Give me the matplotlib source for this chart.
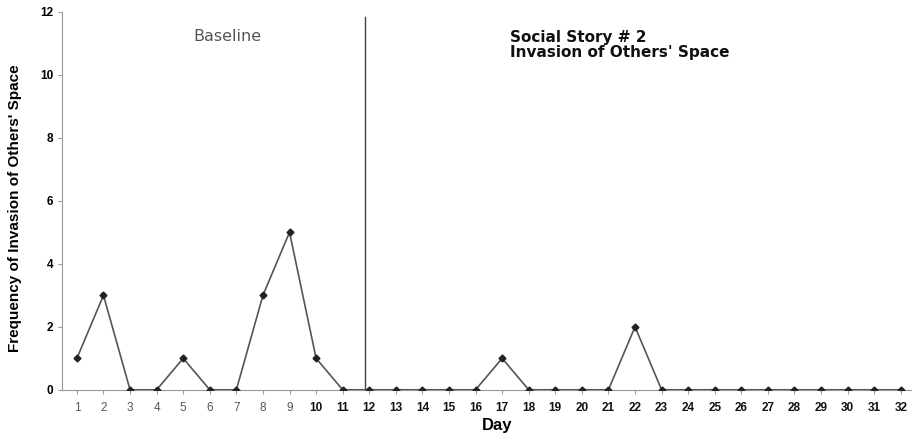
import matplotlib
matplotlib.use("Agg")
import matplotlib.pyplot as plt

plt.rcParams['font.family'] = ['Liberation Sans', 'DejaVu Sans']

days = list(range(1, 33))
frequency = [1, 3, 0, 0, 1, 0, 0, 3, 5, 1, 0,
             0, 0, 0, 0, 0, 1, 0, 0, 0, 0, 2, 0, 0, 0, 0, 0, 0, 0, 0, 0, 0]
y_ticks = [0, 2, 4, 6, 8, 10, 12]
phase_change = 11.85

fig = plt.figure(figsize=(9.16, 4.37), dpi=100)
ax = fig.add_axes([0.068, 0.108, 0.927, 0.865])

ax.plot(days, frequency, color='#555555', lw=1.2, marker='D', markersize=3.5,
        markerfacecolor='#222222', markeredgecolor='#222222', zorder=3)
ax.axvline(phase_change, ymin=0, ymax=0.985, color='#444444', lw=1)

ax.set_xlim(0.45, 32.4)
ax.set_ylim(0, 12)
ax.set_yticks(y_ticks)
ax.set_xticks(days)
ax.set_xticklabels([str(d) for d in days])
for lbl in ax.get_xticklabels():
    if int(lbl.get_text()) >= 10:
        lbl.set_fontweight('bold')
        lbl.set_color('#111111')
    else:
        lbl.set_color('#555555')
for lbl in ax.get_yticklabels():
    lbl.set_fontweight('bold')
ax.tick_params(axis='both', labelsize=8.5, length=3, color='#999999')
ax.tick_params(axis='x', pad=6)
ax.spines['top'].set_visible(False)
ax.spines['right'].set_visible(False)
ax.spines['left'].set_color('#999999')
ax.spines['bottom'].set_color('#999999')

ax.set_xlabel('Day', fontsize=12, fontweight='bold', labelpad=2)
ax.xaxis.set_label_coords(0.512, -0.075)
ax.set_ylabel("Frequency of Invasion of Others' Space", fontsize=11,
              fontweight='bold', labelpad=12)
ax.yaxis.set_label_coords(-0.047, 0.48)

ax.text(6.66, 11.2, 'Baseline', fontsize=11.5, color='#555555', ha='center',
        va='center', family='DejaVu Sans')
ax.text(17.3, 10.94, "Social Story # 2\nInvasion of Others' Space", fontsize=11,
        fontweight='bold', color='#111111', ha='left', va='center',
        linespacing=1.0, family='DejaVu Sans')

fig.savefig('out.png', dpi=100)
